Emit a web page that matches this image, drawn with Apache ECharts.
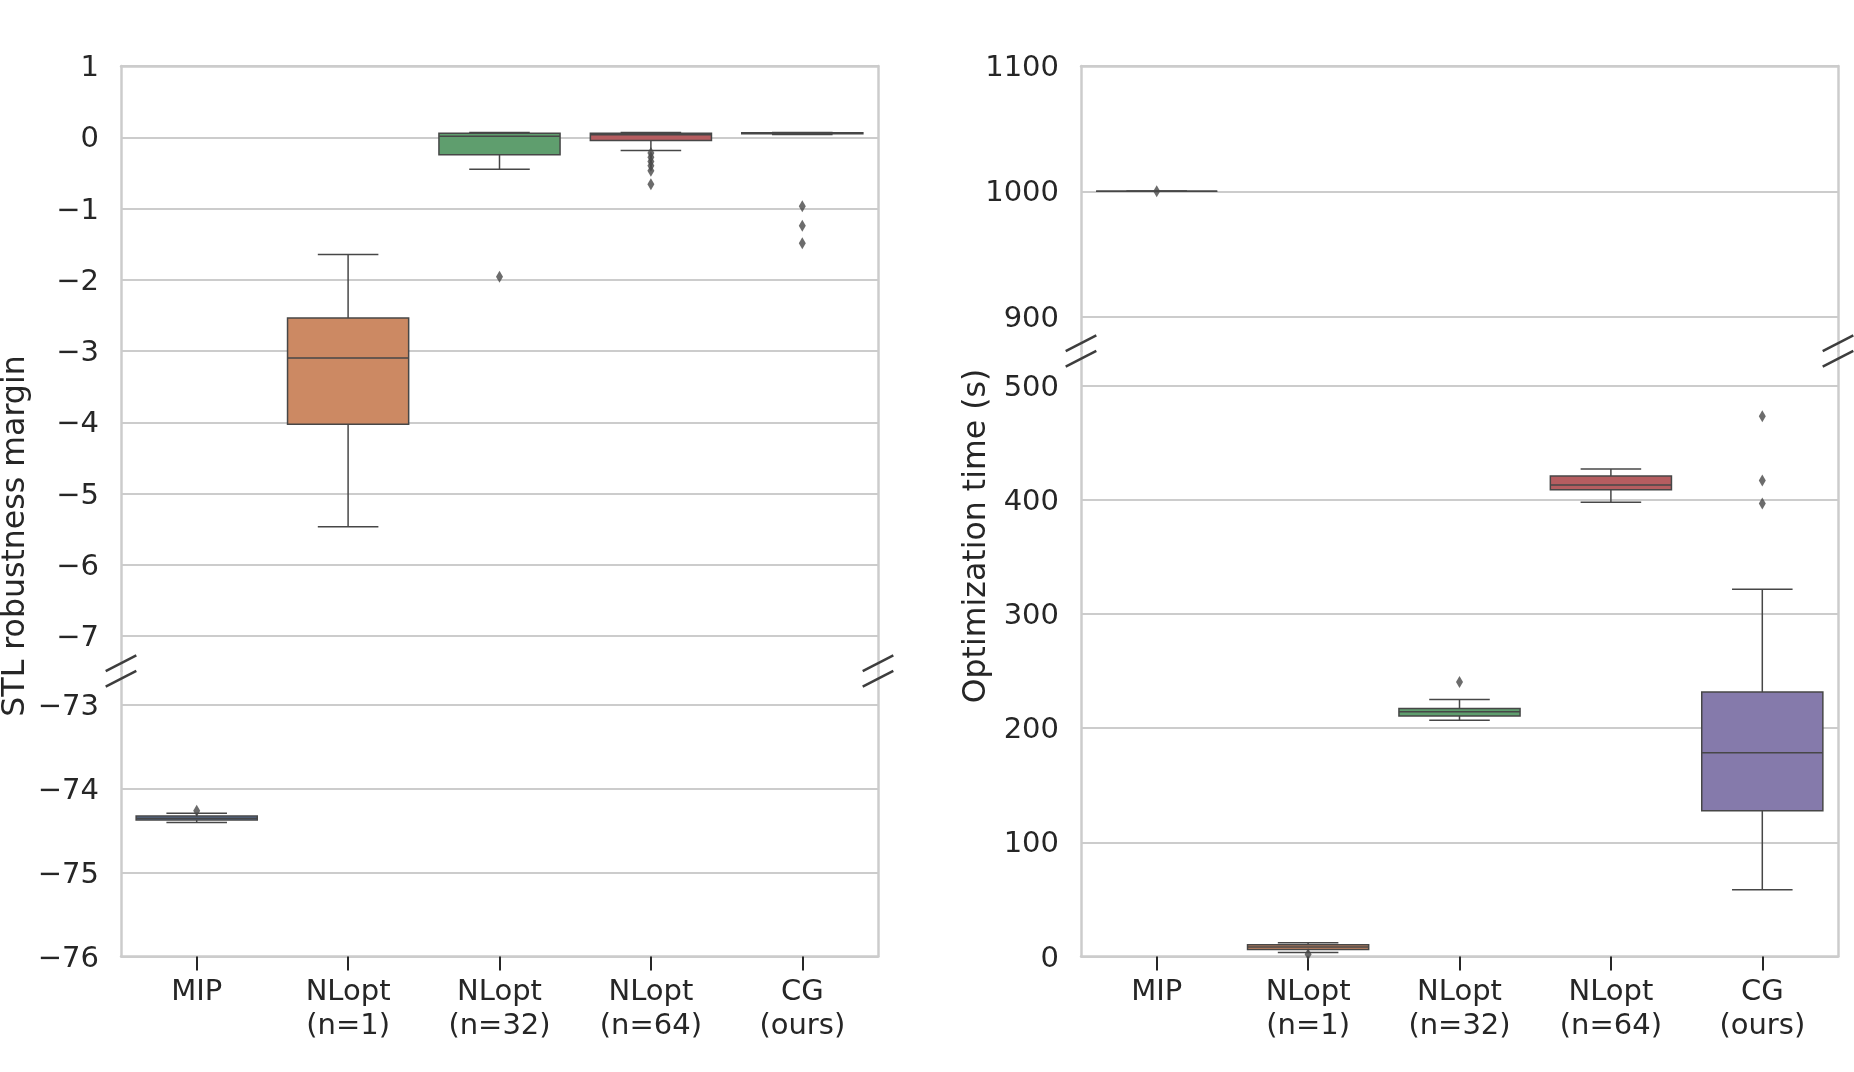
<!DOCTYPE html>
<html>
<head>
<meta charset="utf-8">
<script src="https://cdn.jsdelivr.net/npm/echarts@6/dist/echarts.min.js"></script>
<style>
html,body{margin:0;padding:0;background:#fff;}
#chart{width:1854px;height:1072px;}
</style>
</head>
<body>
<div id="chart"></div>
<script>
// ---------- data ----------
const categories = ['MIP', 'NLopt\n(n=1)', 'NLopt\n(n=32)', 'NLopt\n(n=64)', 'CG\n(ours)'];

// box stats: [min whisker, q1, median, q3, max whisker]
const robustBoxes = [
  [-74.40, -74.372, -74.35, -74.324, -74.29],
  [-5.467, -4.028, -3.098, -2.537, -1.645],
  [-0.45, -0.245, 0.014, 0.057, 0.067],
  [-0.187, -0.044, 0.035, 0.058, 0.066],
  [0.040, 0.048, 0.058, 0.063, 0.068]
];
const robustOutliers = [
  [-74.26],
  [],
  [-1.957],
  [-0.22, -0.28, -0.34, -0.40, -0.47, -0.66],
  [-0.969, -1.243, -1.487]
];

const timeBoxes = [
  [1000, 1000, 1000, 1000, 1000],
  [3.6, 6.2, 8.3, 10.3, 12.1],
  [206.9, 210.7, 214.3, 217.3, 225.1],
  [398.0, 408.8, 413.0, 420.8, 427.1],
  [58.4, 127.7, 178.4, 231.7, 321.6]
];
const timeOutliers = [
  [1000],
  [2.0],
  [240.4],
  [],
  [473.3, 417.0, 396.9]
];

// which category goes to the upper panel (true) / lower panel (false)
const robustUpper = [false, true, true, true, true];
const timeUpper = [true, false, false, false, false];

// axis ranges and tick labels of the broken axes
const robustUpperRange = [-7.49, 1];
const robustLowerRange = [-76, -72.594];
const timeUpperRange = [872.6, 1100];
const timeLowerRange = [0, 530.4];
const robustUpperTicks = [1, 0, -1, -2, -3, -4, -5, -6, -7];
const robustLowerTicks = [-73, -74, -75, -76];
const timeUpperTicks = [1100, 1000, 900];
const timeLowerTicks = [0, 100, 200, 300, 400, 500];

// ---------- style ----------
const palette = ['#5875A3', '#CC8963', '#5F9E6E', '#B55D60', '#857AAB'];
const lineGray = '#474747';
const textColor = '#262626';
const spineColor = '#cccccc';
const FONT = 'DejaVu Sans';

// layout (pixels)
const L1 = 121, L2 = 1081, W = 757, TOP = 66;
const grids = [
  {left: L1, top: TOP, width: W, height: 605},      // robustness upper
  {left: L1, top: 671, width: W, height: 285.5},    // robustness lower
  {left: L2, top: TOP, width: W, height: 285},      // time upper
  {left: L2, top: 351, width: W, height: 605.5}     // time lower
];

function xAxisFor(g, bottom) {
  return {
    type: 'category', gridIndex: g, data: categories, boundaryGap: true,
    position: bottom ? 'bottom' : 'top',
    axisLine: {show: true, onZero: false, lineStyle: {color: spineColor, width: 2.5}},
    axisTick: {show: bottom, alignWithLabel: true, interval: 0, length: 14, inside: false,
               lineStyle: {color: textColor, width: 2}},
    axisLabel: {show: bottom, interval: 0, fontSize: 29, lineHeight: 34, margin: 19,
                color: textColor, fontFamily: FONT},
    splitLine: {show: false}
  };
}
const minus = v => String(v).replace('-', '\u2212');
function yAxisFor(g, range, ticks) {
  return {
    type: 'value', gridIndex: g, min: range[0], max: range[1], position: 'left',
    axisLine: {show: true, onZero: false, lineStyle: {color: spineColor, width: 2.5}},
    axisTick: {show: false, customValues: ticks},
    axisLabel: {customValues: ticks, formatter: minus, fontSize: 29, margin: 22,
                verticalAlign: 'top', lineHeight: 5, color: textColor, fontFamily: FONT},
    splitLine: {show: true, lineStyle: {color: spineColor, width: 1.8}}
  };
}
function yRightFor(g, range) {
  return {
    type: 'value', gridIndex: g, min: range[0], max: range[1], position: 'right',
    axisLine: {show: true, onZero: false, lineStyle: {color: spineColor, width: 2.5}},
    axisTick: {show: false}, axisLabel: {show: false}, splitLine: {show: false}
  };
}

function boxData(boxes, mask, upper) {
  const out = [];
  boxes.forEach((b, i) => { if (mask[i] === upper) out.push([i].concat(b)); });
  return out;
}
function outlierData(outs, mask, upper) {
  const out = [];
  outs.forEach((arr, i) => { if (mask[i] === upper) arr.forEach(v => out.push([i, v])); });
  return out;
}

function renderBox(params, api) {
  const idx = api.value(0);
  const band = api.size([1, 0])[0];
  const bw = band * 0.8, half = bw / 2, cap = bw / 4;
  const cx = api.coord([idx, api.value(3)])[0];
  const y = k => api.coord([idx, api.value(k)])[1];
  const yMin = y(1), yQ1 = y(2), yMed = y(3), yQ3 = y(4), yMax = y(5);
  const ls = {stroke: lineGray, lineWidth: 1.5, fill: null};
  return {
    type: 'group',
    children: [
      {type: 'line', shape: {x1: cx, y1: yQ3, x2: cx, y2: yMax}, style: ls},
      {type: 'line', shape: {x1: cx, y1: yQ1, x2: cx, y2: yMin}, style: ls},
      {type: 'line', shape: {x1: cx - cap, y1: yMax, x2: cx + cap, y2: yMax}, style: ls},
      {type: 'line', shape: {x1: cx - cap, y1: yMin, x2: cx + cap, y2: yMin}, style: ls},
      {type: 'rect', shape: {x: cx - half, y: yQ3, width: bw, height: yQ1 - yQ3},
       style: {fill: palette[idx], stroke: lineGray, lineWidth: 1.5}},
      {type: 'line', shape: {x1: cx - half, y1: yMed, x2: cx + half, y2: yMed}, style: ls}
    ]
  };
}

function boxSeries(g, data) {
  return {type: 'custom', xAxisIndex: g, yAxisIndex: 2 * g, renderItem: renderBox,
          encode: {x: 0, y: [1, 2, 3, 4, 5]}, data: data, clip: true, silent: true, z: 2};
}
function outSeries(g, data) {
  return {type: 'scatter', xAxisIndex: g, yAxisIndex: 2 * g, data: data, symbol: 'diamond',
          symbolSize: [7, 12], itemStyle: {color: lineGray}, clip: true, silent: true, z: 3};
}

const series = [
  boxSeries(0, boxData(robustBoxes, robustUpper, true)),
  outSeries(0, outlierData(robustOutliers, robustUpper, true)),
  boxSeries(1, boxData(robustBoxes, robustUpper, false)),
  outSeries(1, outlierData(robustOutliers, robustUpper, false)),
  boxSeries(2, boxData(timeBoxes, timeUpper, true)),
  outSeries(2, outlierData(timeOutliers, timeUpper, true)),
  boxSeries(3, boxData(timeBoxes, timeUpper, false)),
  outSeries(3, outlierData(timeOutliers, timeUpper, false))
];

// break marks (decoration) at the junction of the two panels of each plot
function breakMarks(xs, yc) {
  const res = [];
  [-7.8, 7.8].forEach(dy => {
    xs.forEach(x => {
      res.push({type: 'line', silent: true, z: 100,
        shape: {x1: x - 15.3, y1: yc + dy + 7.85, x2: x + 15.3, y2: yc + dy - 7.85},
        style: {stroke: '#3d3d3d', lineWidth: 2.5}});
    });
  });
  return res;
}

const option = {
  backgroundColor: '#ffffff',
  animation: false,
  grid: grids.map(g => Object.assign({containLabel: false}, g)),
  xAxis: [xAxisFor(0, false), xAxisFor(1, true), xAxisFor(2, false), xAxisFor(3, true)],
  yAxis: [
    yAxisFor(0, robustUpperRange, robustUpperTicks), yRightFor(0, robustUpperRange),
    yAxisFor(1, robustLowerRange, robustLowerTicks), yRightFor(1, robustLowerRange),
    yAxisFor(2, timeUpperRange, timeUpperTicks), yRightFor(2, timeUpperRange),
    yAxisFor(3, timeLowerRange, timeLowerTicks), yRightFor(3, timeLowerRange)
  ],
  series: series,
  graphic: [
    {type: 'text', x: 16, y: 536, rotation: Math.PI / 2, silent: true,
     style: {text: 'STL robustness margin', font: '31.6px "DejaVu Sans"', fill: textColor,
             align: 'center', verticalAlign: 'middle'}},
    {type: 'text', x: 977, y: 536, rotation: Math.PI / 2, silent: true,
     style: {text: 'Optimization time (s)', font: '31.6px "DejaVu Sans"', fill: textColor,
             align: 'center', verticalAlign: 'middle'}}
  ].concat(breakMarks([L1, L1 + W], 671), breakMarks([L2, L2 + W], 351))
};

const chart = echarts.init(document.getElementById('chart'), null, {renderer: 'canvas'});
chart.setOption(option);
</script>
</body>
</html>
